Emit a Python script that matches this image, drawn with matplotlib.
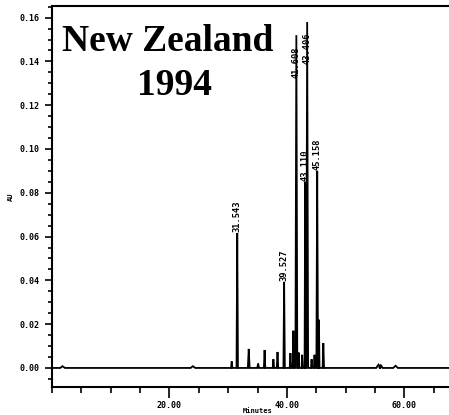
import numpy as np
import matplotlib.pyplot as plt
from matplotlib.ticker import MultipleLocator, FixedLocator, FormatStrFormatter

# peak table: retention time (min), height (AU), half base width (min)
peak_times = [1.8, 24.0, 30.6, 31.543, 33.5, 35.1, 36.2, 37.7, 38.4, 39.527,
              40.6, 41.1, 41.608, 42.0, 42.6, 43.110, 43.45, 44.2, 44.7,
              45.158, 45.45, 46.2, 55.6, 56.0, 58.5]
peak_heights = [0.0008, 0.0008, 0.003, 0.0616, 0.0087, 0.002, 0.0082, 0.004,
                0.0073, 0.0393, 0.0068, 0.017, 0.152, 0.007, 0.006, 0.085,
                0.158, 0.004, 0.006, 0.090, 0.022, 0.0114, 0.0015, 0.0012,
                0.001]
peak_widths = [0.4, 0.4, 0.12, 0.12, 0.15, 0.15, 0.12, 0.12, 0.12, 0.12,
               0.12, 0.1, 0.16, 0.1, 0.1, 0.1, 0.16, 0.1, 0.1, 0.14, 0.1,
               0.12, 0.4, 0.3, 0.4]

labelled = ["31.543", "39.527", "41.608", "43.110", "43.406", "45.158"]
labelled_idx = [3, 9, 12, 15, 16, 19]

x_ticks = [20, 40, 60]
t_end = 67.6

# trace: baseline with a triangular spike for each peak
tx, ty = [0.0], [0.0]
for t, h, w in zip(peak_times, peak_heights, peak_widths):
    tx += [t - w, t, t + w]
    ty += [0.0, h, 0.0]
tx.append(t_end)
ty.append(0.0)

fig = plt.figure(figsize=(4.49, 4.15), dpi=100)
ax = fig.add_axes([52 / 449, 28 / 415, 397 / 449, 381 / 415])

ax.plot(tx, ty, color='black', lw=1.3, solid_joinstyle='miter')

mono = dict(family='DejaVu Sans Mono', fontweight='bold')
for name, i in zip(labelled, labelled_idx):
    t, h = peak_times[i], peak_heights[i]
    if h > 0.14:
        ax.text(t, h - 0.005, name, rotation=90, ha='center', va='top',
                fontsize=6.3, **mono)
    else:
        ax.text(t, h + 0.0005, name, rotation=90, ha='center', va='bottom',
                fontsize=6.3, **mono)

ax.set_xlim(0, t_end)
ax.set_ylim(-0.0087, 0.1653)

ax.xaxis.set_major_locator(FixedLocator(x_ticks))
ax.xaxis.set_minor_locator(MultipleLocator(5))
ax.xaxis.set_major_formatter(FormatStrFormatter('%.2f'))
ax.yaxis.set_major_locator(MultipleLocator(0.02))
ax.yaxis.set_minor_locator(MultipleLocator(0.005))
ax.yaxis.set_major_formatter(FormatStrFormatter('%.2f'))

ax.tick_params(axis='both', which='both', direction='out', width=1.2,
               labelsize=6)
ax.tick_params(axis='x', which='major', length=8, pad=2)
ax.tick_params(axis='x', which='minor', length=4)
ax.tick_params(axis='y', which='major', length=5, pad=4)
ax.tick_params(axis='y', which='minor', length=3)
for lab in ax.get_xticklabels() + ax.get_yticklabels():
    lab.set_family('DejaVu Sans Mono')
    lab.set_fontweight('bold')

for side in ['left', 'bottom', 'top']:
    ax.spines[side].set_linewidth(1.5)
ax.spines['right'].set_visible(False)

ax.set_xlabel('Minutes', fontsize=5, **mono)
ax.xaxis.set_label_coords(0.519, -0.055)
ax.set_ylabel('AU', fontsize=5, **mono)
ax.yaxis.set_label_coords(-0.096, 0.5)

fig.text(168 / 449, 1 - 51 / 415, 'New Zealand', ha='center', va='baseline',
         fontsize=27, fontweight='bold', family='Liberation Serif')
fig.text(175 / 449, 1 - 95 / 415, '1994', ha='center', va='baseline',
         fontsize=27, fontweight='bold', family='Liberation Serif')

fig.savefig('out.png', dpi=100)
